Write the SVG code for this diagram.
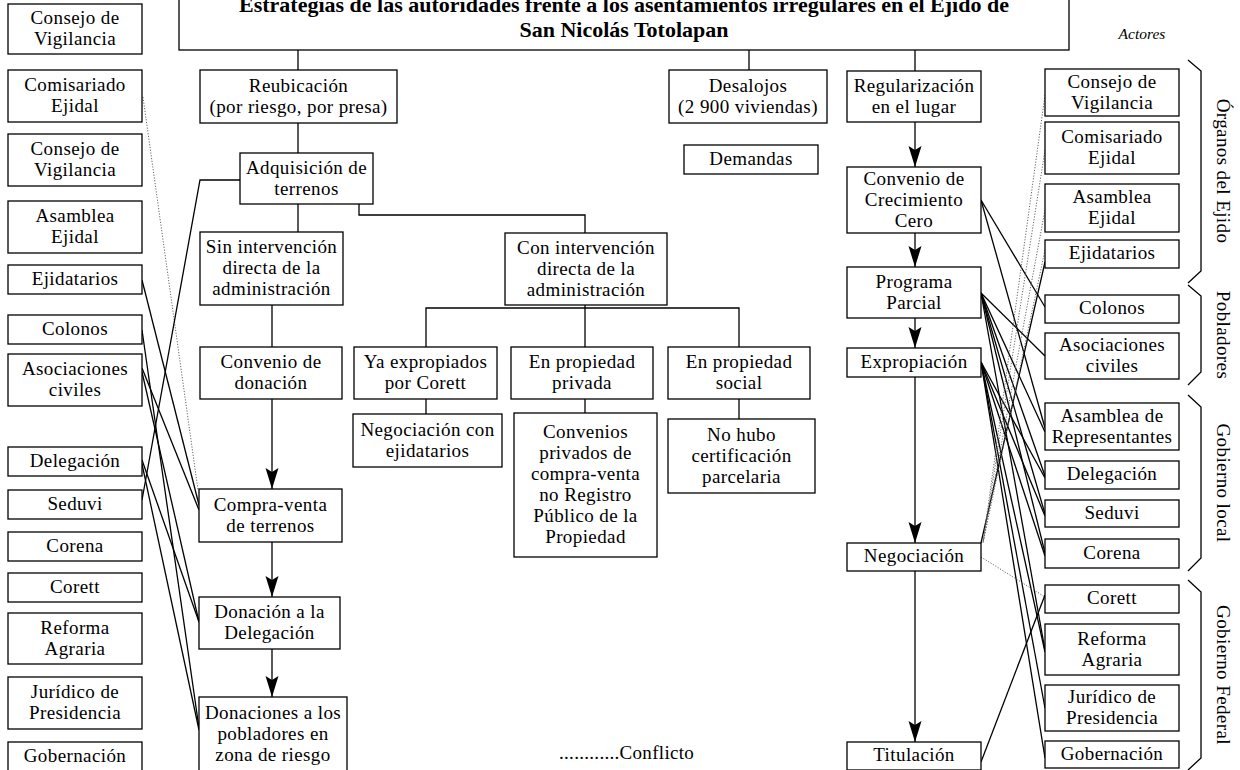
<svg xmlns="http://www.w3.org/2000/svg" width="1240" height="770" viewBox="0 0 1240 770">
<style>
.box{fill:#fff;stroke:#000;stroke-width:1.3}
.t{font-family:"Liberation Serif",serif;font-size:19px;text-anchor:middle;letter-spacing:0.4px;fill:#000}
.ttl{font-family:"Liberation Serif",serif;font-size:22px;font-weight:bold;text-anchor:middle;fill:#000}
.ln{stroke:#000;stroke-width:1.3;fill:none}
.dot{stroke:#666;stroke-width:1;fill:none;stroke-dasharray:1.2 1.6}
.br{stroke:#000;stroke-width:1.3;fill:none}
</style>
<defs>
<marker id="ah" markerUnits="userSpaceOnUse" markerWidth="22" markerHeight="14" viewBox="0 0 22 14" refX="21" refY="7" orient="auto">
<path d="M0,0.5 L21,7 L0,13.5 L4,7 Z" fill="#000"/>
</marker>
</defs>
<rect width="1240" height="770" fill="#fff"/>

<g id="connectors">
<!-- tree -->
<line class="ln" x1="298" y1="50" x2="298" y2="70"/>
<line class="ln" x1="749" y1="50" x2="749" y2="70"/>
<line class="ln" x1="915" y1="50" x2="915" y2="71"/>
<line class="ln" x1="298" y1="123" x2="298" y2="153"/>
<line class="ln" x1="298" y1="204" x2="298" y2="232"/>
<polyline class="ln" points="359,204 359,215 585,215 585,233"/>
<line class="ln" x1="272" y1="305" x2="272" y2="347"/>
<line class="ln" x1="272" y1="399" x2="272" y2="489" marker-end="url(#ah)"/>
<line class="ln" x1="272" y1="542" x2="272" y2="597" marker-end="url(#ah)"/>
<line class="ln" x1="272" y1="649" x2="272" y2="697" marker-end="url(#ah)"/>
<line class="ln" x1="585" y1="305" x2="585" y2="308"/>
<polyline class="ln" points="426,347 426,308 739,308 739,347"/>
<line class="ln" x1="585" y1="308" x2="585" y2="347"/>
<line class="ln" x1="426" y1="399" x2="426" y2="414"/>
<line class="ln" x1="585" y1="399" x2="585" y2="413"/>
<line class="ln" x1="739" y1="399" x2="739" y2="419"/>
<line class="ln" x1="915" y1="122" x2="915" y2="167" marker-end="url(#ah)"/>
<line class="ln" x1="915" y1="233" x2="915" y2="267" marker-end="url(#ah)"/>
<line class="ln" x1="915" y1="318" x2="915" y2="348" marker-end="url(#ah)"/>
<line class="ln" x1="915" y1="377" x2="915" y2="543" marker-end="url(#ah)"/>
<line class="ln" x1="915" y1="571" x2="915" y2="742" marker-end="url(#ah)"/>
<!-- left actors -->
<line class="dot" x1="143" y1="97" x2="198" y2="490"/>
<polyline class="ln" points="142,500 200,180 240,180"/>
<line class="ln" x1="142" y1="280" x2="199" y2="505"/>
<line class="ln" x1="142" y1="330" x2="199" y2="728"/>
<line class="ln" x1="142" y1="368" x2="199" y2="510"/>
<line class="ln" x1="142" y1="372" x2="199" y2="622"/>
<line class="ln" x1="142" y1="460" x2="199" y2="622"/>
<line class="ln" x1="142" y1="464" x2="199" y2="730"/>
<!-- right actors -->
<line class="ln" x1="981" y1="200" x2="1045" y2="307"/>
<line class="ln" x1="981" y1="200" x2="1045" y2="428"/>
<line class="ln" x1="981" y1="293" x2="1045" y2="356"/>
<line class="ln" x1="981" y1="293" x2="1045" y2="432"/>
<line class="ln" x1="981" y1="293" x2="1045" y2="476"/>
<line class="ln" x1="981" y1="293" x2="1045" y2="514"/>
<line class="ln" x1="981" y1="293" x2="1045" y2="553"/>
<line class="ln" x1="981" y1="293" x2="1045" y2="650"/>
<line class="ln" x1="981" y1="362" x2="1045" y2="478"/>
<line class="ln" x1="981" y1="362" x2="1045" y2="516"/>
<line class="ln" x1="981" y1="362" x2="1045" y2="556"/>
<line class="ln" x1="981" y1="362" x2="1045" y2="652"/>
<line class="ln" x1="981" y1="362" x2="1045" y2="708"/>
<line class="ln" x1="981" y1="362" x2="1045" y2="758"/>
<line class="ln" x1="981" y1="543" x2="1045" y2="262"/>
<line class="dot" x1="1045" y1="95" x2="983" y2="543"/>
<line class="dot" x1="1045" y1="150" x2="983" y2="543"/>
<line class="dot" x1="1045" y1="210" x2="983" y2="543"/>
<line class="dot" x1="1045" y1="250" x2="983" y2="543"/>
<line class="dot" x1="981" y1="557" x2="1045" y2="597"/>
<line class="ln" x1="981" y1="762" x2="1045" y2="595"/>
</g>

<g id="title">
<rect class="box" x="179" y="-10" width="890" height="60"/>
<text class="ttl" x="624" y="12">Estrategias de las autoridades frente a los asentamientos irregulares en el Ejido de</text>
<text class="ttl" x="624" y="37">San Nicolás Totolapan</text>
</g>

<!-- left actors -->
<g id="l-consejo1"><rect class="box" x="8" y="4" width="134" height="50"/><text class="t"><tspan x="75" y="24">Consejo de</tspan><tspan x="75" y="45">Vigilancia</tspan></text></g>
<g id="l-comisariado"><rect class="box" x="8" y="70" width="134" height="52"/><text class="t"><tspan x="75" y="91">Comisariado</tspan><tspan x="75" y="112">Ejidal</tspan></text></g>
<g id="l-consejo2"><rect class="box" x="8" y="134" width="134" height="52"/><text class="t"><tspan x="75" y="155">Consejo de</tspan><tspan x="75" y="176">Vigilancia</tspan></text></g>
<g id="l-asamblea"><rect class="box" x="8" y="201" width="134" height="52"/><text class="t"><tspan x="75" y="222">Asamblea</tspan><tspan x="75" y="243">Ejidal</tspan></text></g>
<g id="l-ejidatarios"><rect class="box" x="8" y="265" width="134" height="29"/><text class="t" x="75" y="285">Ejidatarios</text></g>
<g id="l-colonos"><rect class="box" x="8" y="315" width="134" height="29"/><text class="t" x="75" y="335">Colonos</text></g>
<g id="l-asociaciones"><rect class="box" x="8" y="354" width="134" height="52"/><text class="t"><tspan x="75" y="375">Asociaciones</tspan><tspan x="75" y="396">civiles</tspan></text></g>
<g id="l-delegacion"><rect class="box" x="8" y="447" width="134" height="29"/><text class="t" x="75" y="467">Delegación</text></g>
<g id="l-seduvi"><rect class="box" x="8" y="490" width="134" height="29"/><text class="t" x="75" y="510">Seduvi</text></g>
<g id="l-corena"><rect class="box" x="8" y="532" width="134" height="29"/><text class="t" x="75" y="552">Corena</text></g>
<g id="l-corett"><rect class="box" x="8" y="573" width="134" height="29"/><text class="t" x="75" y="593">Corett</text></g>
<g id="l-reforma"><rect class="box" x="8" y="613" width="134" height="51"/><text class="t"><tspan x="75" y="633.5">Reforma</tspan><tspan x="75" y="654.5">Agraria</tspan></text></g>
<g id="l-juridico"><rect class="box" x="8" y="677" width="134" height="52"/><text class="t"><tspan x="75" y="698">Jurídico de</tspan><tspan x="75" y="719">Presidencia</tspan></text></g>
<g id="l-gobernacion"><rect class="box" x="8" y="742" width="134" height="29"/><text class="t" x="75" y="762">Gobernación</text></g>

<!-- left branch -->
<g id="reubicacion"><rect class="box" x="200" y="70" width="197" height="53"/><text class="t"><tspan x="298.5" y="91.5">Reubicación</tspan><tspan x="298.5" y="112.5">(por riesgo, por presa)</tspan></text></g>
<g id="adquisicion"><rect class="box" x="240" y="153" width="133" height="51"/><text class="t"><tspan x="306.5" y="173.5">Adquisición de</tspan><tspan x="306.5" y="194.5">terrenos</tspan></text></g>
<g id="sin-intervencion"><rect class="box" x="200" y="232" width="143" height="73"/><text class="t"><tspan x="271.5" y="253">Sin intervención</tspan><tspan x="271.5" y="274">directa de la</tspan><tspan x="271.5" y="295">administración</tspan></text></g>
<g id="convenio-donacion"><rect class="box" x="200" y="347" width="142" height="52"/><text class="t"><tspan x="271" y="368">Convenio de</tspan><tspan x="271" y="389">donación</tspan></text></g>
<g id="compra-venta"><rect class="box" x="199" y="489" width="143" height="53"/><text class="t"><tspan x="270.5" y="510.5">Compra-venta</tspan><tspan x="270.5" y="531.5">de terrenos</tspan></text></g>
<g id="donacion-delegacion"><rect class="box" x="199" y="597" width="141" height="52"/><text class="t"><tspan x="269.5" y="618">Donación a la</tspan><tspan x="269.5" y="639">Delegación</tspan></text></g>
<g id="donaciones"><rect class="box" x="199" y="697" width="148" height="74"/><text class="t"><tspan x="273" y="718.5">Donaciones a los</tspan><tspan x="273" y="739.5">pobladores en</tspan><tspan x="273" y="760.5">zona de riesgo</tspan></text></g>

<!-- middle branch -->
<g id="con-intervencion"><rect class="box" x="505" y="233" width="162" height="72"/><text class="t"><tspan x="586" y="253.5">Con intervención</tspan><tspan x="586" y="274.5">directa de la</tspan><tspan x="586" y="295.5">administración</tspan></text></g>
<g id="ya-expropiados"><rect class="box" x="354" y="347" width="143" height="52"/><text class="t"><tspan x="425.5" y="368">Ya expropiados</tspan><tspan x="425.5" y="389">por Corett</tspan></text></g>
<g id="propiedad-privada"><rect class="box" x="511" y="347" width="142" height="52"/><text class="t"><tspan x="582" y="368">En propiedad</tspan><tspan x="582" y="389">privada</tspan></text></g>
<g id="propiedad-social"><rect class="box" x="668" y="347" width="142" height="52"/><text class="t"><tspan x="739" y="368">En propiedad</tspan><tspan x="739" y="389">social</tspan></text></g>
<g id="negociacion-ejidatarios"><rect class="box" x="353" y="414" width="149" height="53"/><text class="t"><tspan x="427.5" y="435.5">Negociación con</tspan><tspan x="427.5" y="456.5">ejidatarios</tspan></text></g>
<g id="convenios-privados"><rect class="box" x="514" y="413" width="143" height="144"/><text class="t"><tspan x="585.5" y="438">Convenios</tspan><tspan x="585.5" y="459">privados de</tspan><tspan x="585.5" y="480">compra-venta</tspan><tspan x="585.5" y="501">no Registro</tspan><tspan x="585.5" y="522">Público de la</tspan><tspan x="585.5" y="543">Propiedad</tspan></text></g>
<g id="no-hubo"><rect class="box" x="668" y="419" width="147" height="74"/><text class="t"><tspan x="741.5" y="440.5">No hubo</tspan><tspan x="741.5" y="461.5">certificación</tspan><tspan x="741.5" y="482.5">parcelaria</tspan></text></g>
<g id="desalojos"><rect class="box" x="669" y="70" width="158" height="53"/><text class="t"><tspan x="748" y="91.5">Desalojos</tspan><tspan x="748" y="112.5">(2 900 viviendas)</tspan></text></g>
<g id="demandas"><rect class="box" x="684" y="145" width="134" height="29"/><text class="t" x="751" y="165">Demandas</text></g>

<!-- right branch -->
<g id="regularizacion"><rect class="box" x="847" y="71" width="134" height="51"/><text class="t"><tspan x="914" y="91.5">Regularización</tspan><tspan x="914" y="112.5">en el lugar</tspan></text></g>
<g id="crecimiento-cero"><rect class="box" x="847" y="167" width="134" height="66"/><text class="t"><tspan x="914" y="184.5">Convenio de</tspan><tspan x="914" y="205.5">Crecimiento</tspan><tspan x="914" y="226.5">Cero</tspan></text></g>
<g id="programa-parcial"><rect class="box" x="847" y="267" width="134" height="51"/><text class="t"><tspan x="914" y="287.5">Programa</tspan><tspan x="914" y="308.5">Parcial</tspan></text></g>
<g id="expropiacion"><rect class="box" x="847" y="348" width="134" height="29"/><text class="t" x="914" y="368">Expropiación</text></g>
<g id="negociacion"><rect class="box" x="847" y="543" width="134" height="28"/><text class="t" x="914" y="562">Negociación</text></g>
<g id="titulacion"><rect class="box" x="847" y="742" width="134" height="28"/><text class="t" x="914" y="761">Titulación</text></g>

<!-- right actors -->
<g id="r-consejo"><rect class="box" x="1045" y="69" width="134" height="47"/><text class="t"><tspan x="1112" y="87.5">Consejo de</tspan><tspan x="1112" y="108.5">Vigilancia</tspan></text></g>
<g id="r-comisariado"><rect class="box" x="1045" y="122" width="134" height="52"/><text class="t"><tspan x="1112" y="143">Comisariado</tspan><tspan x="1112" y="164">Ejidal</tspan></text></g>
<g id="r-asamblea"><rect class="box" x="1045" y="184" width="134" height="48"/><text class="t"><tspan x="1112" y="203">Asamblea</tspan><tspan x="1112" y="224">Ejidal</tspan></text></g>
<g id="r-ejidatarios"><rect class="box" x="1045" y="240" width="134" height="28"/><text class="t" x="1112" y="259">Ejidatarios</text></g>
<g id="r-colonos"><rect class="box" x="1045" y="295" width="134" height="28"/><text class="t" x="1112" y="314">Colonos</text></g>
<g id="r-asociaciones"><rect class="box" x="1045" y="333" width="134" height="46"/><text class="t"><tspan x="1112" y="351">Asociaciones</tspan><tspan x="1112" y="372">civiles</tspan></text></g>
<g id="r-asamblea-rep"><rect class="box" x="1045" y="403" width="134" height="47"/><text class="t"><tspan x="1112" y="421.5">Asamblea de</tspan><tspan x="1112" y="442.5">Representantes</tspan></text></g>
<g id="r-delegacion"><rect class="box" x="1045" y="461" width="134" height="28"/><text class="t" x="1112" y="480">Delegación</text></g>
<g id="r-seduvi"><rect class="box" x="1045" y="500" width="134" height="27"/><text class="t" x="1112" y="519">Seduvi</text></g>
<g id="r-corena"><rect class="box" x="1045" y="539" width="134" height="29"/><text class="t" x="1112" y="558.5">Corena</text></g>
<g id="r-corett"><rect class="box" x="1045" y="585" width="134" height="28"/><text class="t" x="1112" y="604">Corett</text></g>
<g id="r-reforma"><rect class="box" x="1045" y="624" width="134" height="51"/><text class="t"><tspan x="1112" y="644.5">Reforma</tspan><tspan x="1112" y="665.5">Agraria</tspan></text></g>
<g id="r-juridico"><rect class="box" x="1045" y="685" width="134" height="46"/><text class="t"><tspan x="1112" y="703">Jurídico de</tspan><tspan x="1112" y="724">Presidencia</tspan></text></g>
<g id="r-gobernacion"><rect class="box" x="1045" y="741" width="134" height="27"/><text class="t" x="1112" y="760">Gobernación</text></g>

<!-- braces and group labels -->
<g id="groups">
<path class="br" d="M1188,60 L1201,71 L1201,271 L1188,283"/>
<path class="br" d="M1188,285 L1201,296 L1201,372 L1188,385"/>
<path class="br" d="M1188,395 L1201,407 L1201,558 L1188,571"/>
<path class="br" d="M1188,580 L1201,592 L1201,758 L1188,770"/>
<text class="t" transform="translate(1217,171) rotate(90)">Órganos del Ejido</text>
<text class="t" transform="translate(1217,335) rotate(90)">Pobladores</text>
<text class="t" transform="translate(1217,483) rotate(90)">Gobierno local</text>
<text class="t" transform="translate(1217,675) rotate(90)">Gobierno Federal</text>
</g>

<text x="1142" y="39" style="font-family:'Liberation Serif',serif;font-style:italic;font-size:15.5px;text-anchor:middle">Actores</text>
<text x="559" y="759" style="font-family:'Liberation Serif',serif;font-size:19px;letter-spacing:0.3px">............Conflicto</text>
</svg>
